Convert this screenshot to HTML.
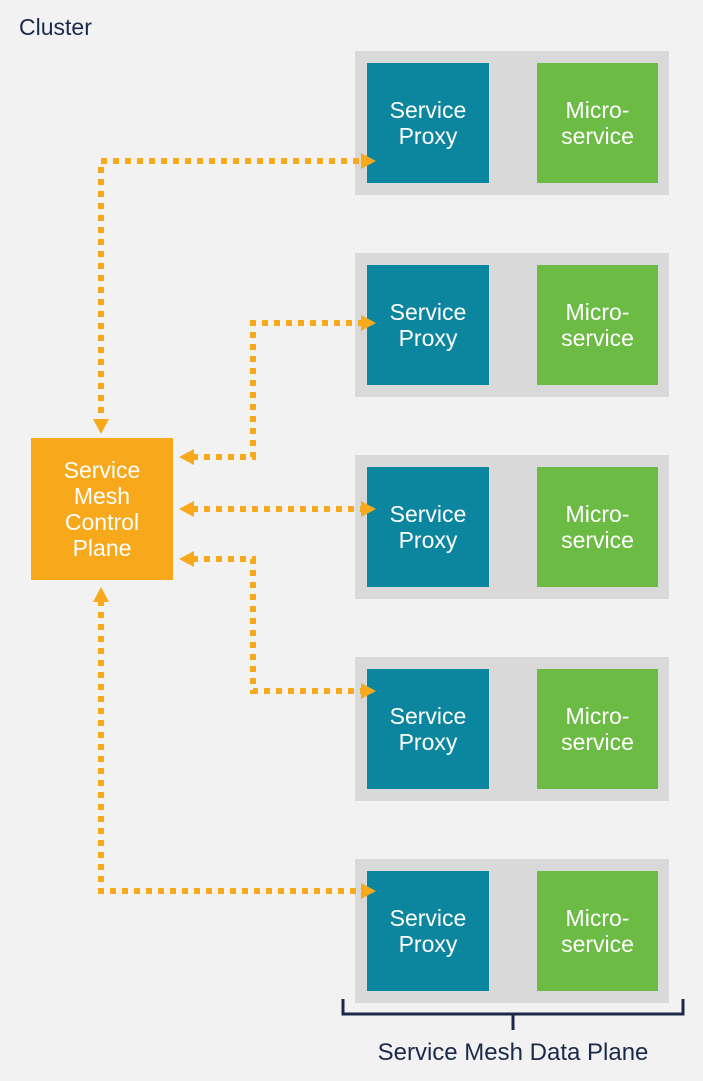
<!DOCTYPE html>
<html><head><style>
html,body{margin:0;padding:0;background:#f2f2f2;}
body{width:703px;height:1081px;position:relative;overflow:hidden;font-family:"Liberation Sans","DejaVu Sans",sans-serif;}
.row{position:absolute;left:355px;width:314px;height:144px;background:#d9d9d9;}
.b{position:absolute;top:12px;width:122px;height:120px;color:#fff;font-size:23px;line-height:26px;display:flex;align-items:center;justify-content:center;text-align:center;}
.sp{left:12px;background:#0b869e;}
.ms{left:182px;width:121px;background:#6cbb45;}
.t{position:absolute;color:#1b2a4a;font-size:24px;}
</style></head><body>
<div class="t" style="left:19px;top:14px;font-size:23px;">Cluster</div>
<div class="row" style="top:51px"><div class="b sp">Service<br>Proxy</div><div class="b ms">Micro-<br>service</div></div>
<div class="row" style="top:253px"><div class="b sp">Service<br>Proxy</div><div class="b ms">Micro-<br>service</div></div>
<div class="row" style="top:455px"><div class="b sp">Service<br>Proxy</div><div class="b ms">Micro-<br>service</div></div>
<div class="row" style="top:657px"><div class="b sp">Service<br>Proxy</div><div class="b ms">Micro-<br>service</div></div>
<div class="row" style="top:859px"><div class="b sp">Service<br>Proxy</div><div class="b ms">Micro-<br>service</div></div>
<div style="position:absolute;left:31px;top:438px;width:142px;height:142px;background:#f7a81b;color:#fff;font-size:23px;line-height:26px;display:flex;align-items:center;justify-content:center;text-align:center;">Service<br>Mesh<br>Control<br>Plane</div>
<svg width="703" height="1081" style="position:absolute;left:0;top:0">
<g fill="none" stroke="#f7a81b" stroke-width="6" stroke-dasharray="6 6">
<path d="M101 425 V161 H363"/>
<path d="M192 457 H253 V323 H363"/>
<path d="M192 509 H363"/>
<path d="M192 559 H253 V691 H363"/>
<path d="M101 600 V891 H363"/>
</g>
<g fill="#f7a81b">
<polygon points="361,153 376,161 361,169"/>
<polygon points="93,419 109,419 101,434"/>
<polygon points="361,315 376,323 361,331"/>
<polygon points="194,449 179,457 194,465"/>
<polygon points="361,501 376,509 361,517"/>
<polygon points="194,501 179,509 194,517"/>
<polygon points="194,551 179,559 194,567"/>
<polygon points="361,683 376,691 361,699"/>
<polygon points="93,602 109,602 101,587"/>
<polygon points="361,883 376,891 361,899"/>
</g>
<g fill="none" stroke="#1b2a4a" stroke-width="3">
<path d="M343 999 V1014 H683 V999"/>
<path d="M513 1014 V1030"/>
</g>
</svg>
<div class="t" style="left:313px;width:400px;text-align:center;top:1039px;">Service Mesh Data Plane</div>
</body></html>
